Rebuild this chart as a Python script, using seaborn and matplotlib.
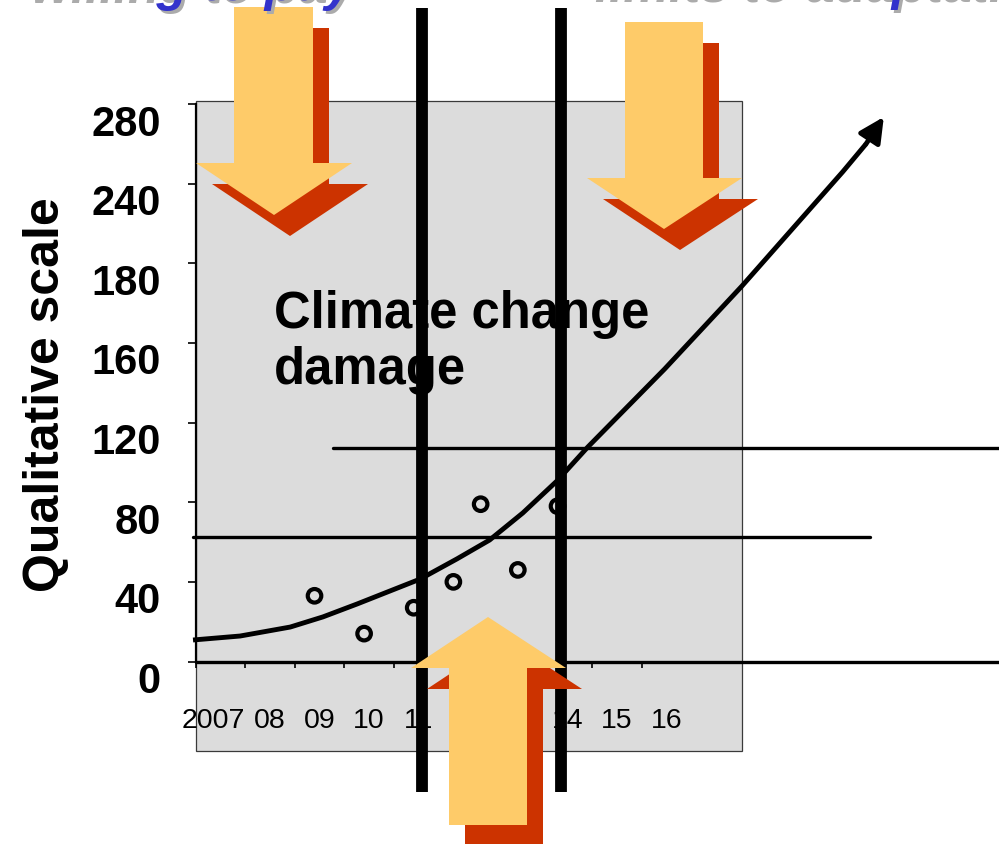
import numpy as np
import pandas as pd
import matplotlib
matplotlib.use("Agg")
import matplotlib.pyplot as plt
import seaborn as sns
from matplotlib.patches import Polygon, Rectangle
from matplotlib.transforms import Affine2D, ScaledTranslation

# ---- data -------------------------------------------------------------
years = [2007, 2008, 2009, 2010, 2011, 2012, 2013, 2014, 2015, 2016]
year_labels = ["2007", "08", "09", "10", "11", "12", "13", "14", "15", "16"]

y_tick_pos = [0, 40, 80, 120, 160, 200, 240, 280]
y_tick_labels = ["0", "40", "80", "120", "160", "180", "240", "280"]

# observed damage events
obs_year = [2008.9, 2009.9, 2010.9, 2011.7, 2012.25, 2013.0, 2013.8]
obs_value = [33, 14, 27, 40, 79, 46, 78]

# climate change damage trend
trend_year = [2006.45, 2007.40, 2008.41, 2009.07, 2009.76, 2010.42, 2011.03,
              2011.77, 2012.43, 2013.10, 2013.79, 2014.41, 2015.96, 2017.52,
              2019.55, 2020.02]
trend_value = [10.8, 12.8, 17.3, 22.4, 28.9, 35.4, 41.4,
               51.5, 61.0, 74.6, 90.7, 107.7, 146.9, 188.6,
               245.9, 259.9]
trend_tip = (2020.38, 273.5)

# thresholds: (level, x start, x end)
threshold_low = (62.5, 2006.45, 2020.1)
threshold_high = (107.2, 2009.27, 2022.7)

# decision points (vertical bars)
decision_years = [2011.07, 2013.87]

# ---- style ------------------------------------------------------------
sns.set_theme(style="white")
plt.rcParams["font.family"] = ["Liberation Sans", "DejaVu Sans"]
for key in ("text.color", "axes.labelcolor", "xtick.color", "ytick.color"):
    plt.rcParams[key] = "black"

W, H = 999, 845
fig = plt.figure(figsize=(W / 100, H / 100), dpi=100)
fig.patch.set_facecolor("white")

# pixel coordinates, origin at top-left
px = Affine2D().scale(1 / W, -1 / H).translate(0, 1) + fig.transFigure

# grey chart panel
panel = Rectangle((196, 102), 742 - 196, 752 - 102, transform=px,
                  facecolor="#DCDCDC", edgecolor="#3a3a3a", lw=0.9, zorder=-1)
fig.add_artist(panel)

ax = fig.add_axes([195.5 / W, (H - 662.5) / H, 545.5 / W, 557.5 / H])
ax.set_facecolor("none")
ax.set_xlim(2006.5, 2017.5)
ax.set_ylim(0, 280)

for s in ["top", "right", "bottom"]:
    ax.spines[s].set_visible(False)
ax.spines["left"].set_color("black")
ax.spines["left"].set_linewidth(1.6)

# y axis
ax.set_yticks(y_tick_pos)
ax.set_yticklabels(y_tick_labels, fontsize=30, fontweight="bold")
ax.tick_params(axis="y", direction="out", length=6, width=1.2, color="black",
               pad=19, left=True)
shift = ScaledTranslation(0, -15 / 100, fig.dpi_scale_trans)
for lab in ax.get_yticklabels():
    lab.set_transform(lab.get_transform() + shift)

ax.set_ylabel("Qualitative scale", fontsize=36, fontweight="bold")
ax.yaxis.label.set_verticalalignment("center")
ax.yaxis.set_label_coords((46 - 195.5) / 545.5, (662.5 - 395) / 557.5)

# x axis: labels centred on years, tick marks between them
ax.set_xticks(years)
ax.set_xticklabels(year_labels, fontsize=20.5)
ax.set_xticks([y - 0.5 for y in years], minor=True)
ax.tick_params(axis="x", which="major", length=0, pad=33, bottom=True)
ax.tick_params(axis="x", which="minor", direction="out", length=4.5,
               width=1.2, color="black", bottom=True)
first = ax.get_xticklabels()[0]
first.set_transform(first.get_transform()
                    + ScaledTranslation(-7 / 100, 0, fig.dpi_scale_trans))

# baseline
ax.plot([2006.5, threshold_high[2]], [0, 0], color="black", lw=2.4,
        clip_on=False, zorder=3)

# text label
ax.text(2008.08, 187, "Climate change\ndamage", fontsize=36.5,
        fontweight="bold", color="black", ha="left", va="top",
        linespacing=1.18, zorder=2)

# thresholds
for level, x0, x1 in (threshold_low, threshold_high):
    ax.plot([x0, x1], [level, level], color="black", lw=2.4,
            clip_on=False, zorder=3)

# observations
sns.scatterplot(x=obs_year, y=obs_value, ax=ax, marker="o", s=95,
                facecolors="none", edgecolor="black", linewidth=3.0,
                zorder=4, clip_on=False)

# trend curve with arrow head
sns.lineplot(x=trend_year, y=trend_value, ax=ax, color="black", lw=3.5,
             clip_on=False, zorder=4, solid_capstyle="butt",
             solid_joinstyle="round")
ax.annotate("", xy=trend_tip, xytext=(trend_year[-1], trend_value[-1]),
            arrowprops=dict(arrowstyle="-|>,head_length=1.5,head_width=0.75",
                            mutation_scale=10, lw=3.5, color="black",
                            shrinkA=0, shrinkB=0),
            annotation_clip=False, zorder=4)

# decision bars
for xv in decision_years:
    ax.plot([xv, xv], [328.3, -65.5], color="black", lw=8.5,
            solid_capstyle="butt", clip_on=False, zorder=5)


# block arrows with drop shadow
def block_arrow(tip, shaft_l, shaft_r, base, head_l, head_r, end):
    tx, ty = tip
    return [(shaft_l, end), (shaft_r, end), (shaft_r, base), (head_r, base),
            (tx, ty), (head_l, base), (shaft_l, base)]


arrows = [
    # tip, shaft left/right, head base, head left/right, shaft end
    ((274, 216), 234, 313, 164, 196, 352, 8),
    ((664, 230), 625, 703, 179, 587, 742, 23),
    ((488, 618), 449, 527, 669, 411, 566, 826),
]
dx, dy = 16, 21
for tip, sl, sr, base, hl, hr, end in arrows:
    shadow = block_arrow((tip[0] + dx, tip[1] + dy), sl + dx, sr + dx,
                         base + dy, hl + dx, hr + dx, end + dy)
    front = block_arrow(tip, sl, sr, base, hl, hr, end)
    fig.add_artist(Polygon(shadow, closed=True, transform=px,
                           facecolor="#CC3300", edgecolor="none", zorder=5))
    fig.add_artist(Polygon(front, closed=True, transform=px,
                           facecolor="#FECB69", edgecolor="none", zorder=6))

# headings along the top edge
for txt, x0, base_y in (("willing to pay", 28, 0), ("limits to adaptation", 592, -1)):
    fig.text(x0 + 3, base_y + 3, txt, transform=px, fontsize=37,
             fontweight="bold", fontstyle="italic", color="#ABABAB",
             va="baseline", ha="left", zorder=7)
    fig.text(x0, base_y, txt, transform=px, fontsize=37,
             fontweight="bold", fontstyle="italic", color="#3333CC",
             va="baseline", ha="left", zorder=8)

fig.savefig("out.png", dpi=100)
